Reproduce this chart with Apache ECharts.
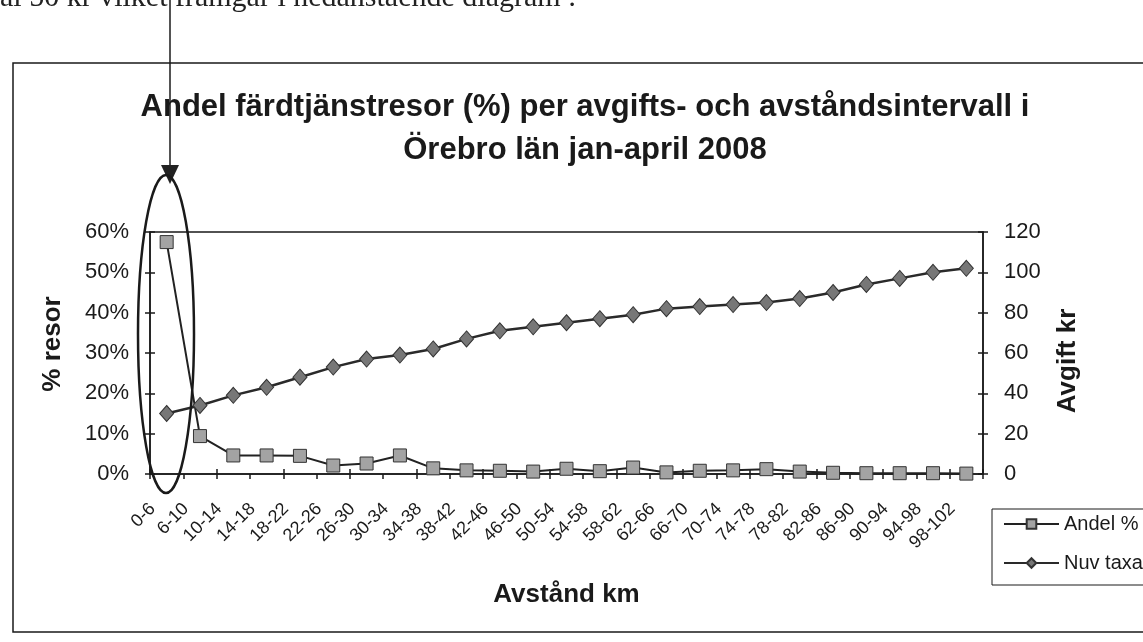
<!DOCTYPE html>
<html>
<head>
<meta charset="utf-8">
<script src="https://cdn.jsdelivr.net/npm/echarts@6/dist/echarts.min.js"></script>
<style>
html,body{margin:0;padding:0;background:#fff;}
#c{width:1143px;height:642px;}
</style>
</head>
<body>
<div id="c"></div>
<script>
const categories = ['0-6','6-10','10-14','14-18','18-22','22-26','26-30','30-34','34-38','38-42','42-46','46-50','50-54','54-58','58-62','62-66','66-70','70-74','74-78','78-82','82-86','86-90','90-94','94-98','98-102'];
const andelPct = [57.5, 9.4, 4.6, 4.6, 4.5, 2.1, 2.6, 4.6, 1.4, 0.9, 0.8, 0.6, 1.3, 0.7, 1.6, 0.4, 0.8, 0.9, 1.2, 0.6, 0.3, 0.2, 0.2, 0.2, 0.1];
const nuvTaxa = [30, 34, 39, 43, 48, 53, 57, 59, 62, 67, 71, 73, 75, 77, 79, 82, 83, 84, 85, 87, 90, 94, 97, 100, 102];
const leftTicks = {min: 0, max: 60, interval: 10};
const rightTicks = {min: 0, max: 120, interval: 20};
const titleLines = ['Andel färdtjänstresor (%) per avgifts- och avståndsintervall i', 'Örebro län jan-april 2008'];
const introText = 'al 50 kr vilket framgår i nedanstående diagram :';

const FONT = '"Liberation Sans", Arial, sans-serif';
const ink = '#1a1a1a';
const chart = echarts.init(document.getElementById('c'), null, {renderer: 'canvas'});

const axisLine = {show: true, lineStyle: {color: ink, width: 1.5}};
const tickOut = {show: true, inside: false, length: 5, lineStyle: {color: ink, width: 1.5}};
const tickIn = {show: true, inside: true, length: 5, lineStyle: {color: ink, width: 1.5}};

chart.setOption({
  animation: false,
  backgroundColor: '#fff',
  title: {
    text: titleLines.join('\n'),
    left: 580, textAlign: 'center', top: 81,
    textStyle: {fontFamily: FONT, fontSize: 31, fontWeight: 'bold', color: ink, lineHeight: 43}
  },
  grid: {left: 150, right: 160, top: 232, bottom: 168, show: true, borderColor: ink, borderWidth: 1.5, backgroundColor: 'transparent'},
  legend: {
    left: 992, top: 509, orient: 'vertical',
    padding: [3, 60, 10, 11], itemGap: 15,
    borderColor: ink, borderWidth: 1, backgroundColor: '#fff',
    itemWidth: 55, itemHeight: 12,
    textStyle: {fontFamily: FONT, fontSize: 20, lineHeight: 24, color: ink},
    data: ['Andel %', 'Nuv taxa']
  },
  xAxis: [{
    type: 'category', data: categories, boundaryGap: true,
    axisLine: axisLine, axisTick: tickOut,
    axisLabel: {interval: 0, rotate: 45, fontFamily: FONT, fontSize: 18, color: ink, margin: 18, padding: [0, 20, 0, 0]},
    name: 'Avstånd km', nameLocation: 'middle', nameGap: 108,
    nameTextStyle: {fontFamily: FONT, fontSize: 26, fontWeight: 'bold', color: ink},
    splitLine: {show: false}
  }, {
    type: 'category', data: categories, boundaryGap: true, position: 'bottom',
    axisLine: {show: false}, axisTick: tickIn, axisLabel: {show: false}, splitLine: {show: false}
  }],
  yAxis: [{
    type: 'value', position: 'left', min: leftTicks.min, max: leftTicks.max, interval: leftTicks.interval,
    axisLine: axisLine, axisTick: tickOut,
    axisLabel: {formatter: '{value}%', fontFamily: FONT, fontSize: 22, color: ink, margin: 21},
    splitLine: {show: false},
    name: '% resor', nameLocation: 'middle', nameGap: 84, nameRotate: 90,
    nameTextStyle: {fontFamily: FONT, fontSize: 26, fontWeight: 'bold', color: ink, padding: [0, 0, 0, 18]}
  }, {
    type: 'value', position: 'right', min: rightTicks.min, max: rightTicks.max, interval: rightTicks.interval,
    axisLine: axisLine, axisTick: tickOut,
    axisLabel: {fontFamily: FONT, fontSize: 22, color: ink, margin: 21},
    splitLine: {show: false},
    name: 'Avgift kr', nameLocation: 'middle', nameGap: 72, nameRotate: 90,
    nameTextStyle: {fontFamily: FONT, fontSize: 26, fontWeight: 'bold', color: ink, padding: [0, 16, 0, 0]}
  }, {
    type: 'value', position: 'left', min: leftTicks.min, max: leftTicks.max, interval: leftTicks.interval,
    axisLine: {show: false}, axisTick: tickIn, axisLabel: {show: false}, splitLine: {show: false}
  }, {
    type: 'value', position: 'right', min: rightTicks.min, max: rightTicks.max, interval: rightTicks.interval,
    axisLine: {show: false}, axisTick: tickIn, axisLabel: {show: false}, splitLine: {show: false}
  }],
  series: [{
    name: 'Andel %', type: 'line', xAxisIndex: 0, yAxisIndex: 0, data: andelPct,
    symbol: 'rect', symbolSize: 13, showAllSymbol: true,
    lineStyle: {color: '#222', width: 2},
    itemStyle: {color: '#a3a3a3', borderColor: '#333', borderWidth: 1},
    z: 3
  }, {
    name: 'Nuv taxa', type: 'line', xAxisIndex: 0, yAxisIndex: 1, data: nuvTaxa,
    symbol: 'diamond', symbolSize: [14, 16], showAllSymbol: true,
    lineStyle: {color: '#2a2a2a', width: 2.5},
    itemStyle: {color: '#777', borderColor: '#333', borderWidth: 1},
    z: 4
  }],
  graphic: [
    {type: 'rect', shape: {x: 13, y: 63, width: 1200, height: 569}, style: {fill: 'none', stroke: ink, lineWidth: 1.5}, z: -1, silent: true},
    {type: 'text', left: 0, top: -17, style: {text: introText, font: '30px "Liberation Serif", "DejaVu Serif", serif', fill: '#222'}, z: 10},
    {type: 'line', shape: {x1: 170, y1: 0, x2: 170, y2: 168}, style: {stroke: ink, lineWidth: 1.5}, z: 20},
    {type: 'polygon', shape: {points: [[161, 165], [179, 165], [170, 184]]}, style: {fill: '#222'}, z: 20},
    {type: 'ellipse', shape: {cx: 166, cy: 334, rx: 28, ry: 159}, style: {fill: 'none', stroke: ink, lineWidth: 2.5}, z: 20}
  ]
});
</script>
</body>
</html>
